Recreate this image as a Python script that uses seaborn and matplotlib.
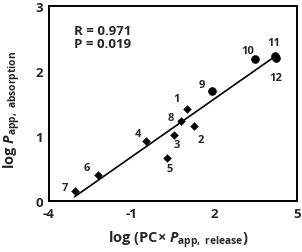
import numpy as np
import pandas as pd
import matplotlib
matplotlib.use("Agg")
import matplotlib.pyplot as plt
import seaborn as sns

labels = ["1", "2", "3", "4", "5", "6", "7", "8", "9", "10", "11", "12"]
x_vals = [1.02, 1.27, 0.53, -0.46, 0.28, -2.22, -3.07, 0.81, 1.93, 3.48, 4.21, 4.23]
y_vals = [1.42, 1.15, 1.02, 0.93, 0.66, 0.40, 0.155, 1.23, 1.69, 2.19, 2.23, 2.20]
groups = ["a"] * 8 + ["b"] * 4
x_ticks = [-4, -1, 2, 5]
y_ticks = [0, 1, 2, 3]

sns.set_theme(style="white")
plt.rcParams['font.family'] = ['Open Sans', 'DejaVu Sans']
plt.rcParams['font.weight'] = 'bold'
plt.rcParams['mathtext.fontset'] = 'custom'
plt.rcParams['mathtext.rm'] = 'Open Sans:bold'
plt.rcParams['mathtext.bf'] = 'Open Sans:bold'
plt.rcParams['mathtext.it'] = 'Open Sans:italic:bold'

df = pd.DataFrame({"x": x_vals, "y": y_vals, "g": groups, "label": labels})

fig = plt.figure(figsize=(3.02, 2.53), dpi=100)
ax = fig.add_axes([0.162, 0.202, 0.821, 0.770])

sns.regplot(data=df, x="x", y="y", scatter=False, ci=None, ax=ax,
            line_kws=dict(color="black", lw=1.2))
sub_a = df[df.g == "a"]
sub_b = df[df.g == "b"]
sns.scatterplot(data=sub_a, x="x", y="y", marker="D", s=16, color="black",
                edgecolor="black", ax=ax, zorder=3)
sns.scatterplot(data=sub_b, x="x", y="y", marker="o", s=32, color="black",
                edgecolor="black", ax=ax, zorder=3)

offsets = {"1": (-11, 10), "2": (7, -13), "3": (3, -10), "4": (-9, 7),
           "5": (3, -10), "6": (-11, 7), "7": (-10, 3), "8": (-11, 4),
           "9": (-10, 7), "10": (-7, 8), "11": (-1, 14), "12": (0, -19)}
for _, r in df.iterrows():
    ax.annotate(r["label"], (r["x"], r["y"]), xytext=offsets[r["label"]],
                textcoords="offset pixels", ha="center", va="center",
                fontsize=8, fontweight="bold")

ax.text(0.1, 0.84, "R = 0.971\nP = 0.019", transform=ax.transAxes,
        fontsize=9.5, fontweight="bold", va="center", ha="left", linespacing=1.0)

ax.set_xlim(-4, 5)
ax.set_ylim(0, 3)
ax.set_xticks(x_ticks)
ax.set_yticks(y_ticks)
ax.set_xticklabels([str(t) for t in x_ticks], fontsize=9.5, fontweight="bold")
ax.set_yticklabels([str(t) for t in y_ticks], fontsize=9.5, fontweight="bold")
ax.tick_params(direction="inout", length=5, width=1.3, color="black", pad=2)
for s in ax.spines.values():
    s.set_color("black")
    s.set_linewidth(1.4)
ax.grid(False)

ax.set_xlabel(r"log (PC$\times$ $\mathit{P}_{\mathrm{app,\ release}}$)",
              fontsize=10.5, fontweight="bold", va="center")
ax.set_ylabel(r"log $\mathit{P}_{\mathrm{app,\ absorption}}$",
              fontsize=10.5, fontweight="bold", va="center")
ax.xaxis.set_label_coords(0.52, -0.195)
ax.yaxis.set_label_coords(-0.148, 0.47)

fig.savefig("out.png", dpi=100)
